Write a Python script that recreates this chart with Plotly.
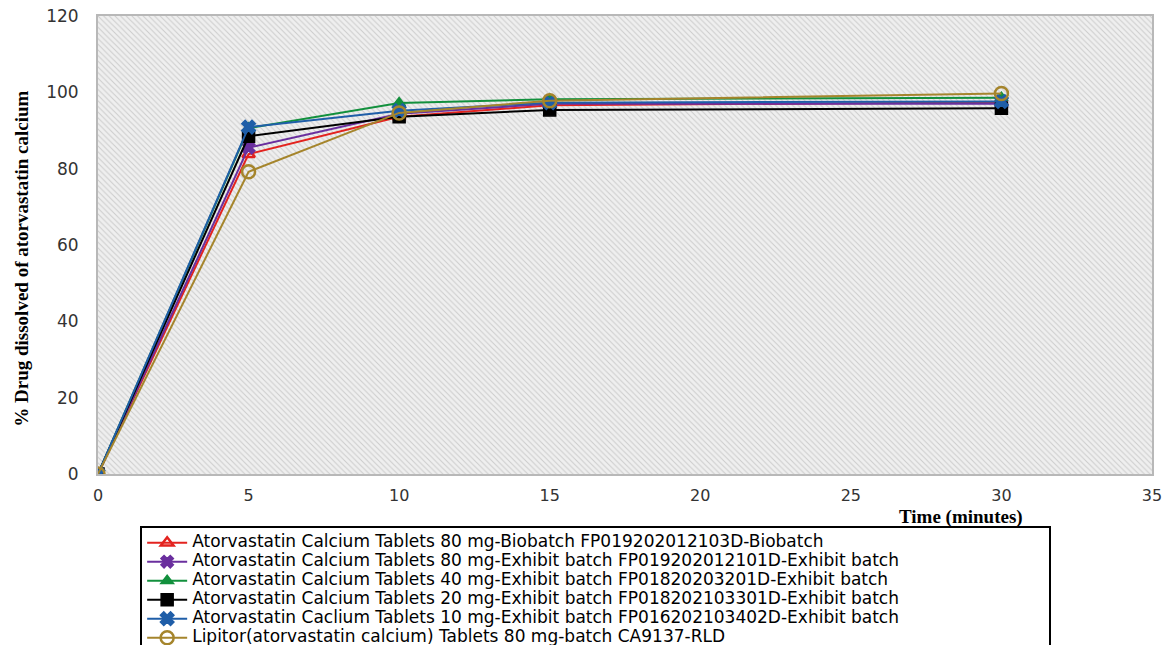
import plotly.graph_objects as go

time_min = [0, 5, 10, 15, 30]

names = [
    "Atorvastatin Calcium Tablets 80 mg-Biobatch FP019202012103D-Biobatch",
    "Atorvastatin Calcium Tablets 80 mg-Exhibit batch FP019202012101D-Exhibit batch",
    "Atorvastatin Calcium Tablets 40 mg-Exhibit batch FP01820203201D-Exhibit batch",
    "Atorvastatin Calcium Tablets 20 mg-Exhibit batch FP018202103301D-Exhibit batch",
    "Atorvastatin Caclium Tablets 10 mg-Exhibit batch FP016202103402D-Exhibit batch",
    "Lipitor(atorvastatin calcium) Tablets 80 mg-batch CA9137-RLD",
]

biobatch_80 = [0, 83.8, 93.6, 96.6, 97.4]
exhibit_80 = [0, 85.5, 94.4, 97.0, 97.0]
exhibit_40 = [0, 90.6, 97.2, 98.2, 98.6]
exhibit_20 = [0, 88.5, 93.6, 95.4, 95.8]
exhibit_10 = [0, 90.9, 95.2, 97.3, 97.6]
lipitor_80 = [0, 79.2, 94.6, 97.8, 99.7]

series = [biobatch_80, exhibit_80, exhibit_40, exhibit_20, exhibit_10, lipitor_80]
colors = ["#e3231f", "#6a2f9e", "#12903d", "#000000", "#1f5ea8", "#a5852c"]
symbols = ["triangle-up-open", "x", "triangle-up", "square", "x", "circle-open"]
msizes = [11, 11, 11, 12, 12, 13]

x_ticks = [0, 5, 10, 15, 20, 25, 30, 35]
y_ticks = [0, 20, 40, 60, 80, 100, 120]

fig = go.Figure()

# hatched plot-area background
fig.add_trace(go.Scatter(
    x=[0, 35, 35, 0, 0], y=[0, 0, 120, 120, 0],
    fill="toself", mode="lines", line=dict(width=0, color="rgba(0,0,0,0)"),
    fillcolor="rgba(0,0,0,0)",
    fillpattern=dict(shape="\\", size=4, solidity=0.25, fgcolor="#a8a8a8", bgcolor="#efefef"),
    hoverinfo="skip", showlegend=False,
))

for nm, ys, c, s, ms in zip(names, series, colors, symbols, msizes):
    fig.add_trace(go.Scatter(
        x=time_min, y=ys, name='<span style="font-size:17px">' + nm + '</span>',
        mode="lines+markers",
        line=dict(color=c, width=2),
        marker=dict(symbol=s, size=ms, color=c,
                    line=dict(color=c, width=2.5 if s.endswith("open") else 1.5)),
    ))

fig.update_layout(
    width=1168, height=645,
    margin=dict(l=98, r=16, t=16, b=171, autoexpand=False),
    paper_bgcolor="white",
    plot_bgcolor="white",
    showlegend=True,
    legend=dict(
        orientation="h",
        entrywidth=0.855, entrywidthmode="fraction",
        x=0.04, xanchor="left", y=-0.114, yanchor="top",
        bgcolor="white", bordercolor="black", borderwidth=2,
        font=dict(family="DejaVu Sans", size=12, color="black"),
        itemwidth=40, tracegroupgap=0,
    ),
    xaxis=dict(
        range=[0, 35], tickvals=x_ticks, showgrid=True, gridcolor="#b8b8b8", gridwidth=2,
        zeroline=False, showline=True, linecolor="#b8b8b8", linewidth=2, mirror=True,
        ticks="outside", ticklen=6, tickcolor="rgba(0,0,0,0)",
        tickfont=dict(family="DejaVu Sans", size=16, color="#333333"),
    ),
    yaxis=dict(
        range=[0, 120], tickvals=y_ticks, showgrid=True, gridcolor="#b8b8b8", gridwidth=2,
        zeroline=False, showline=True, linecolor="#b8b8b8", linewidth=2, mirror=True,
        ticks="outside", ticklen=14, tickcolor="rgba(0,0,0,0)",
        tickfont=dict(family="DejaVu Sans", size=17, color="#333333"),
    ),
    annotations=[
        dict(
            text="<b>Time (minutes)</b>", xref="paper", yref="paper",
            x=0.819, y=-0.093, xanchor="center", yanchor="middle", showarrow=False,
            font=dict(family="Liberation Serif", size=19, color="black"),
        ),
        dict(
            text="<b>% Drug dissolved of atorvastatin calcium</b>", xref="paper", yref="paper",
            x=-0.0721, y=0.47, xanchor="center", yanchor="middle", showarrow=False,
            textangle=-90,
            font=dict(family="Liberation Serif", size=19, color="black"),
        ),
    ],
)

fig.write_html("out.html")
